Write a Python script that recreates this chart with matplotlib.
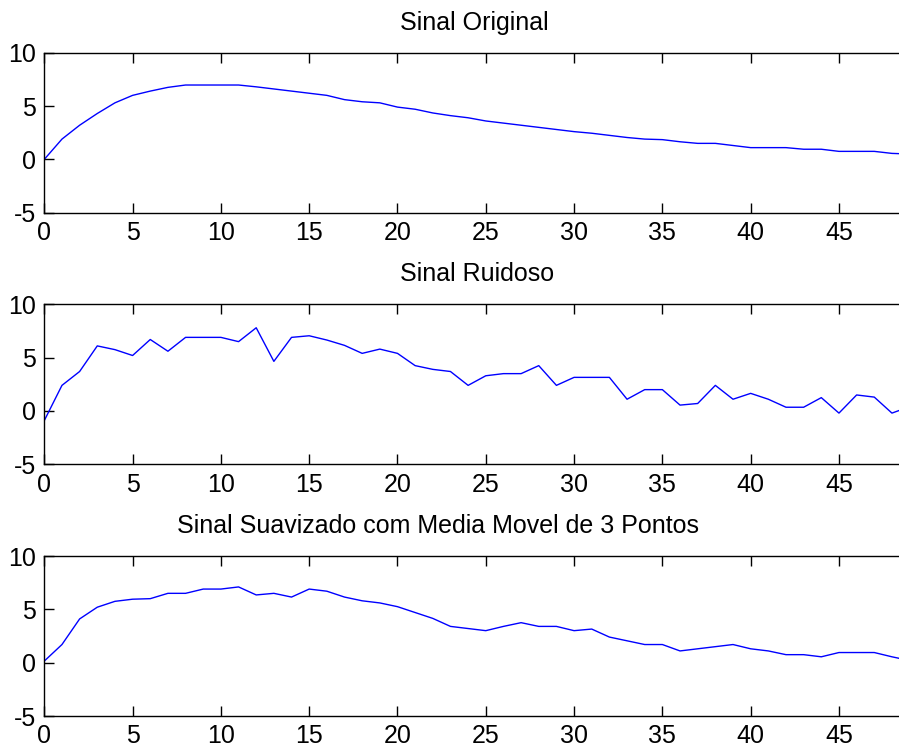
import matplotlib
matplotlib.use("Agg")
import matplotlib.pyplot as plt
import numpy as np

# ── data ──────────────────────────────────────────────────────────────────────
original = [0.0, 1.9, 3.2, 4.3, 5.3, 6.0, 6.4, 6.75, 6.97, 6.97,
            6.97, 6.97, 6.8, 6.6, 6.4, 6.2, 6.0, 5.6, 5.4, 5.3,
            4.9, 4.7, 4.35, 4.1, 3.9, 3.6, 3.4, 3.2, 3.0, 2.8,
            2.6, 2.45, 2.25, 2.05, 1.9, 1.85, 1.65, 1.5, 1.5, 1.3,
            1.1, 1.1, 1.1, 0.95, 0.95, 0.75, 0.75, 0.75, 0.56, 0.5]

ruidoso = [-0.9, 2.4, 3.7, 6.1, 5.75, 5.2, 6.7, 5.6, 6.9, 6.9,
           6.9, 6.5, 7.8, 4.65, 6.9, 7.05, 6.65, 6.15, 5.4, 5.8,
           5.4, 4.25, 3.9, 3.7, 2.4, 3.3, 3.5, 3.5, 4.25, 2.4,
           3.15, 3.15, 3.15, 1.1, 2.0, 2.0, 0.55, 0.7, 2.4, 1.1,
           1.65, 1.1, 0.35, 0.35, 1.25, -0.2, 1.5, 1.3, -0.2, 0.4]

suavizado = [0.15, 1.7, 4.1, 5.2, 5.75, 5.95, 6.0, 6.5, 6.5, 6.9,
             6.9, 7.1, 6.35, 6.5, 6.15, 6.9, 6.7, 6.15, 5.8, 5.6,
             5.25, 4.7, 4.15, 3.4, 3.2, 3.0, 3.4, 3.75, 3.4, 3.4,
             3.0, 3.15, 2.4, 2.05, 1.7, 1.7, 1.1, 1.3, 1.5, 1.7,
             1.3, 1.1, 0.75, 0.75, 0.55, 0.95, 0.95, 0.95, 0.55, 0.2]

titles = ['Sinal Original', 'Sinal Ruidoso',
          'Sinal Suavizado com Media Movel de 3 Pontos']
title_x = [474, 477, 438]          # title centres in pixels
x_ticks = [0, 5, 10, 15, 20, 25, 30, 35, 40, 45]
y_ticks = [-5, 0, 5, 10]

W, H = 899, 749
plt.rcParams['font.family'] = ['Liberation Sans', 'DejaVu Sans']
plt.rcParams['axes.unicode_minus'] = False

fig = plt.figure(figsize=(W / 100, H / 100), dpi=100)
fig.patch.set_facecolor('white')

# axes boxes in pixels: (top, bottom)
boxes = [(52.7, 212.7), (304.3, 464.3), (556.0, 716.0)]
left = 44.3

for series, ttl, tx, (top, bot) in zip([original, ruidoso, suavizado],
                                        titles, title_x, boxes):
    ax = fig.add_axes([left / W, 1 - bot / H, (W - left) / W, (bot - top) / H])
    xs = np.arange(len(series))
    ax.plot(xs, series, color='#0000FF', lw=1.0)
    ax.set_xlim(0, 48.4)
    ax.set_ylim(-5, 10)
    ax.set_xticks(x_ticks)
    ax.set_yticks(y_ticks)
    ax.tick_params(direction='in', length=7, width=1, labelsize=18,
                   top=True, bottom=True, left=True, right=False, pad=6)
    ax.spines['right'].set_visible(False)
    for s in ['top', 'bottom', 'left']:
        ax.spines[s].set_linewidth(1.0)
    fig.text(tx / W, 1 - (top - 23) / H, ttl, ha='center', va='baseline',
             fontsize=18)

plt.savefig('out.png', dpi=100, facecolor='white')
